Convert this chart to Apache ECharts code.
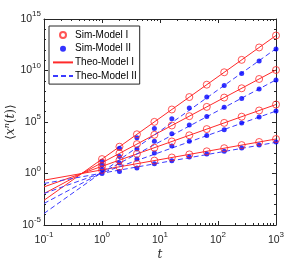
<!DOCTYPE html>
<html>
<head>
<meta charset="utf-8">
<script src="https://cdn.jsdelivr.net/npm/echarts@6/dist/echarts.min.js"></script>
<style>html,body{margin:0;padding:0;background:#fff}#c{width:306px;height:261px}</style>
</head>
<body>
<div id="c"></div>
<script>
// ---- data ----
const tSim = [1, 2, 4, 8, 16, 32, 64, 128, 256, 512, 1000];
const simI_n1 = [2.24, 4.48, 8.95, 17.9, 35.8, 71.6, 143, 286, 573, 1146, 2239];
const simI_n2 = [5.0, 20.0, 80.2, 321, 1283, 5130, 2.05e4, 8.2e4, 3.28e5, 1.31e6, 5.0e6];
const simI_n3 = [11.2, 89.7, 717, 5740, 4.59e4, 3.67e5, 2.94e6, 2.35e7, 1.88e8, 1.5e9, 1.12e10];
const simI_n4 = [25.1, 401, 6420, 1.03e5, 1.64e6, 2.63e7, 4.2e8, 6.73e9, 1.08e11, 1.72e12, 2.5e13];
const simII_n1 = [1.0, 1.58, 3.39, 8.9, 17.4, 39.8, 79.4, 141, 302, 589, 1148];
const simII_n2 = [2.5, 10.5, 25.7, 100, 480, 1318, 5012, 1.78e4, 7.94e4, 3.09e5, 1.17e6];
const simII_n3 = [6.3, 45.7, 240, 1318, 7244, 5.13e4, 3.47e5, 2.63e6, 1.95e7, 1.58e8, 1.2e9];
const simII_n4 = [15.8, 275, 3020, 2.4e4, 2.09e5, 2.29e6, 2.69e7, 3.55e8, 5.25e9, 8.3e10, 1.23e12];
const tTheo = [0.1, 1000];
const theoI_n1 = [0.224, 2239];
const theoI_n2 = [0.05, 5.0e6];
const theoI_n3 = [0.0112, 1.12e10];
const theoI_n4 = [0.0025, 2.5e13];
const theoII_n1 = [0.107, 1072];
const theoII_n2 = [0.0115, 1.15e6];
const theoII_n3 = [0.00123, 1.23e9];
const theoII_n4 = [1.32e-4, 1.32e12];
// tick labels (decimal exponents)
const xTickExp = [-1, 0, 1, 2, 3];
const yTickExp = [-5, 0, 5, 10, 15];
const xMinorExp = [];
[-1, 0, 1, 2].forEach(d => { for (let k = 2; k <= 9; k++) xMinorExp.push(d + Math.log10(k)); });
const legendNames = ['Sim-Model I', 'Sim-Model II', 'Theo-Model I', 'Theo-Model II'];

const FONT = 'Liberation Sans, Arial, Helvetica, sans-serif';
const AX = '#262626';
const RED = '#ff2a2a';
const BLUE = '#0000ff';
const DBLUE = '#3b3bff';
const CLEAR = 'rgba(0,0,0,0)';

const zip = (xs, ys) => xs.map((x, i) => [x, ys[i]]);
const supLabel = v => '{b|10}{s|' + Math.round(v) + '}';
const rich = {
  b: { fontSize: 10.5, fontFamily: FONT, color: AX, lineHeight: 18, verticalAlign: 'middle' },
  s: { fontSize: 8, fontFamily: FONT, color: AX, lineHeight: 9, verticalAlign: 'top' }
};

const series = [];
[simI_n1, simI_n2, simI_n3, simI_n4].forEach(arr => series.push({
  name: 'Sim-Model I', type: 'scatter', xAxisIndex: 0, yAxisIndex: 0,
  data: zip(tSim, arr), symbol: 'circle', symbolSize: 7, z: 5,
  itemStyle: { color: CLEAR, borderColor: RED, borderWidth: 1 }
}));
[simII_n1, simII_n2, simII_n3, simII_n4].forEach(arr => series.push({
  name: 'Sim-Model II', type: 'scatter', xAxisIndex: 0, yAxisIndex: 0,
  data: zip(tSim, arr), symbol: 'circle', symbolSize: 5, z: 4,
  itemStyle: { color: BLUE }
}));
[theoI_n1, theoI_n2, theoI_n3, theoI_n4].forEach(arr => series.push({
  name: 'Theo-Model I', type: 'line', xAxisIndex: 0, yAxisIndex: 0,
  data: zip(tTheo, arr), symbol: 'none', z: 3,
  lineStyle: { color: RED, width: 1 }, itemStyle: { color: CLEAR, borderColor: CLEAR, borderWidth: 0 }
}));
[theoII_n1, theoII_n2, theoII_n3, theoII_n4].forEach(arr => series.push({
  name: 'Theo-Model II', type: 'line', xAxisIndex: 0, yAxisIndex: 0,
  data: zip(tTheo, arr), symbol: 'none', z: 3,
  lineStyle: { color: DBLUE, width: 1, type: [5, 3] }, itemStyle: { color: CLEAR, borderColor: CLEAR, borderWidth: 0 }
}));

const hidden = { axisLine: { show: false, onZero: false }, axisTick: { show: false }, axisLabel: { show: false }, splitLine: { show: false } };
const line = { show: true, onZero: false, lineStyle: { color: AX, width: 1 } };
const noLine = { show: false, onZero: false };
const serif = 'DejaVu Serif, serif';

const option = {
  animation: false,
  backgroundColor: '#fff',
  grid: { left: 44, right: 30, top: 19, bottom: 36, containLabel: false, outerBoundsMode: 'none' },
  legend: {
    data: legendNames, orient: 'vertical', left: 49, top: 26,
    padding: [3, 3, 2, 3], itemWidth: 20, itemHeight: 6, itemGap: 1.7,
    backgroundColor: '#fff', borderColor: AX, borderWidth: 1,
    textStyle: { fontSize: 10, fontFamily: FONT, color: '#000', lineHeight: 12, padding: [0, 0, 0, -3] }
  },
  xAxis: [
    Object.assign({ type: 'log', logBase: 10, min: 0.1, max: 1000, position: 'bottom' }, hidden),
    { type: 'value', min: -1, max: 3, interval: 1, position: 'bottom', axisLine: line,
      axisTick: { inside: true, length: 4, lineStyle: { color: AX } },
      axisLabel: { formatter: supLabel, rich: rich, margin: 6 }, splitLine: { show: false },
      name: 't', nameLocation: 'middle', nameGap: 24, nameMoveOverlap: false,
      nameTextStyle: { fontSize: 12, fontStyle: 'italic', fontFamily: serif, color: AX } },
    { type: 'value', min: -1, max: 3, position: 'bottom', axisLine: noLine,
      axisTick: { inside: true, length: 2, customValues: xMinorExp, lineStyle: { color: AX } },
      axisLabel: { show: false }, splitLine: { show: false } },
    { type: 'value', min: -1, max: 3, interval: 1, position: 'top', axisLine: line,
      axisTick: { inside: true, length: 4, lineStyle: { color: AX } },
      axisLabel: { show: false }, splitLine: { show: false } },
    { type: 'value', min: -1, max: 3, position: 'top', axisLine: noLine,
      axisTick: { inside: true, length: 2, customValues: xMinorExp, lineStyle: { color: AX } },
      axisLabel: { show: false }, splitLine: { show: false } }
  ],
  yAxis: [
    Object.assign({ type: 'log', logBase: 10, min: 1e-5, max: 1e15, position: 'left' }, hidden),
    { type: 'value', min: -5, max: 15, interval: 5, position: 'left', axisLine: line,
      axisTick: { inside: true, length: 4, lineStyle: { color: AX } },
      axisLabel: { formatter: supLabel, rich: rich, margin: 3 }, splitLine: { show: false },
      name: '{a|⟨}{i|x}{s|n}{a|(}{i|t}{a|)⟩}', nameLocation: 'middle', nameGap: 25, nameRotate: 90, nameMoveOverlap: false,
      nameTextStyle: { rich: {
        a: { fontSize: 12, fontFamily: serif, color: AX, lineHeight: 16, verticalAlign: 'middle' },
        i: { fontSize: 12, fontStyle: 'italic', fontFamily: serif, color: AX, lineHeight: 16, verticalAlign: 'middle' },
        s: { fontSize: 8, fontStyle: 'italic', fontFamily: serif, color: AX, lineHeight: 9, verticalAlign: 'top' }
      } } },
    { type: 'value', min: -5, max: 15, interval: 1, position: 'left', axisLine: noLine,
      axisTick: { inside: true, length: 2, lineStyle: { color: AX } },
      axisLabel: { show: false }, splitLine: { show: false } },
    { type: 'value', min: -5, max: 15, interval: 5, position: 'right', axisLine: line,
      axisTick: { inside: true, length: 4, lineStyle: { color: AX } },
      axisLabel: { show: false }, splitLine: { show: false } },
    { type: 'value', min: -5, max: 15, interval: 1, position: 'right', axisLine: noLine,
      axisTick: { inside: true, length: 2, lineStyle: { color: AX } },
      axisLabel: { show: false }, splitLine: { show: false } }
  ],
  series: series
};
const chart = echarts.init(document.getElementById('c'), null, { renderer: 'canvas' });
chart.setOption(option);
</script>
</body>
</html>
